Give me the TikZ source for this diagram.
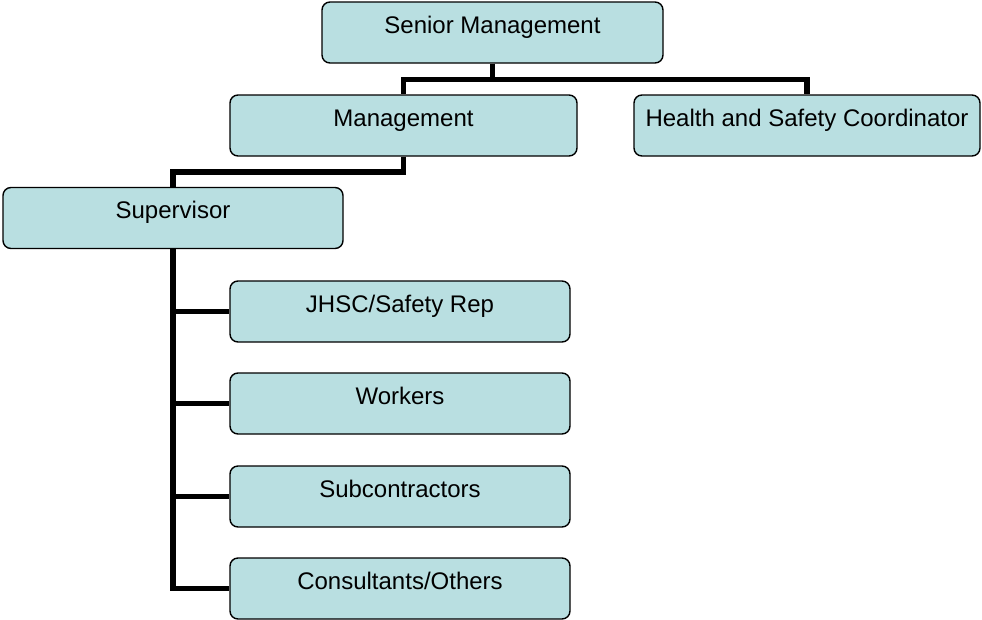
\documentclass[tikz,border=0pt]{standalone}
\usepackage{fontspec}
\setmainfont{Liberation Sans}
\usepackage{xcolor}
\usepackage{tikz}
\usetikzlibrary{positioning}
\definecolor{boxfill}{HTML}{B9DFE1}

\tikzset{
  orgbox/.style={draw=black,line width=1.4pt,fill=boxfill,rounded corners=8pt,
    minimum width=340pt,inner xsep=0pt,inner ysep=0pt,
    text height=31pt,text depth=30pt,font=\fontsize{24}{28}\selectfont},
  link/.style={line width=5.5pt,black}
}

\begin{document}
\begin{tikzpicture}[x=1pt,y=-1pt]
  \useasboundingbox (0,0) rectangle (982,619);
  % top levels
  \node[orgbox,minimum width=341pt] (senior) at (492.5,32.5) {Senior Management};
  \node[orgbox,minimum width=347pt] (mgmt) at (403.5,125.5) {Management};
  \node[orgbox,minimum width=346pt] (hsc) at (807,125.5) {Health and Safety Coordinator};
  \node[orgbox] (sup) at (173,218) {Supervisor};
  % reports under the supervisor
  \foreach \n/\y/\lab in {jhsc/311.5/JHSC\slash Safety Rep,workers/403.5/Workers,
                          subc/496.5/Subcontractors,cons/588.5/Consultants\slash Others} {
    \node[orgbox] (\n) at (400,\y) {\lab};
  }
  \draw[link] (senior.south) -- ++(0,16) -| (mgmt.north);
  \draw[link] (senior.south) -- ++(0,16) -| (hsc.north);
  \draw[link] (mgmt.south) -- ++(0,15.5) -| (sup.north);
  \foreach \n in {jhsc,workers,subc,cons}
    \draw[link] (sup.south) |- (\n.west);
\end{tikzpicture}
\end{document}
